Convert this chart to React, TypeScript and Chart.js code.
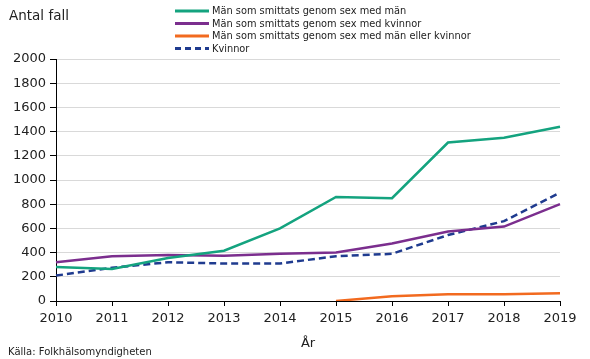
import React, { useEffect, useRef } from "react";
import { Chart, registerables } from "chart.js";

Chart.register(...registerables);

const years = ["2010", "2011", "2012", "2013", "2014", "2015", "2016", "2017", "2018", "2019"];
const msm = [280, 265, 355, 415, 600, 860, 850, 1310, 1350, 1440];
const msk = [320, 370, 380, 375, 390, 400, 475, 575, 615, 800];
const msmk = [null, null, null, null, null, 0, 40, 55, 55, 65];
const kvinnor = [210, 275, 320, 310, 310, 370, 390, 545, 660, 895];
const seriesNames = [
  "Män som smittats genom sex med män",
  "Män som smittats genom sex med kvinnor",
  "Män som smittats genom sex med män eller kvinnor",
  "Kvinnor",
];
const yTitle = "Antal fall";
const xTitle = "År";
const source = "Källa: Folkhälsomyndigheten";

const FONT = "'DejaVu Sans', Verdana, sans-serif";

const overlayPlugin = {
  id: "overlay",
  afterDraw(chart: any) {
    const ctx = chart.ctx;
    ctx.save();
    ctx.font = `9.8px ${FONT}`;
    ctx.textBaseline = "middle";
    ctx.textAlign = "left";
    chart.data.datasets.forEach((ds: any, i: number) => {
      const y = 11 + i * 12.5;
      ctx.strokeStyle = ds.borderColor;
      ctx.lineWidth = 3;
      ctx.setLineDash(ds.borderDash && ds.borderDash.length ? [6, 4] : []);
      ctx.beginPath();
      ctx.moveTo(175, y);
      ctx.lineTo(209, y);
      ctx.stroke();
      ctx.setLineDash([]);
      ctx.fillStyle = "#222";
      ctx.fillText(ds.label, 212, y + 0.5);
    });
    ctx.font = `13.5px ${FONT}`;
    ctx.fillStyle = "#222";
    ctx.textBaseline = "middle";
    ctx.fillText(yTitle, 9, 16);
    ctx.font = `10px ${FONT}`;
    ctx.fillText(source, 8, 352);
    ctx.restore();
  },
};

export default function App() {
  const ref = useRef<HTMLCanvasElement>(null);
  useEffect(() => {
    const chart = new Chart(ref.current!, {
      type: "line",
      data: {
        labels: years,
        datasets: [
          { label: seriesNames[0], data: msm, borderColor: "#14a37f", borderWidth: 2.5 },
          { label: seriesNames[1], data: msk, borderColor: "#7b2e8e", borderWidth: 2.5 },
          { label: seriesNames[2], data: msmk as any, borderColor: "#f26a1f", borderWidth: 2.5 },
          { label: seriesNames[3], data: kvinnor, borderColor: "#1f3b8f", borderWidth: 2.5, borderDash: [7, 4] },
        ],
      },
      options: {
        animation: false,
        responsive: false,
        maintainAspectRatio: false,
        elements: { point: { radius: 0 }, line: { tension: 0 } },
        layout: { padding: { left: 0, top: 59, right: 30, bottom: 8 } },
        plugins: { legend: { display: false }, tooltip: { enabled: false } },
        scales: {
          x: {
            offset: false,
            grid: { drawOnChartArea: false, drawTicks: true, tickLength: 5, tickColor: "#000" },
            border: { color: "#000", width: 1 },
            ticks: { color: "#222", font: { family: FONT, size: 13 }, padding: 5, maxRotation: 0 },
            title: { display: true, text: xTitle, color: "#222", font: { family: FONT, size: 13 }, padding: { top: 2, bottom: 0 } },
            afterFit(axis: any) {
              axis.height = 50;
            },
          },
          y: {
            min: 0,
            max: 2000,
            ticks: {
              stepSize: 200,
              color: "#222",
              font: { family: FONT, size: 13 },
              padding: 4,
              callback: (v: any) => String(v),
            },
            grid: { color: "#d9d9d9", tickColor: "#000", tickLength: 6, lineWidth: 1 },
            border: { color: "#000", width: 1 },
            afterFit(axis: any) {
              axis.width = 56;
            },
          },
        },
      },
      plugins: [overlayPlugin],
    });
    return () => chart.destroy();
  }, []);
  return (
    <div style={{ position: "fixed", left: 0, top: 0, width: 590, height: 359, background: "#fff" }}>
      <canvas ref={ref} width={590} height={359} style={{ width: 590, height: 359, display: "block" }} />
    </div>
  );
}
